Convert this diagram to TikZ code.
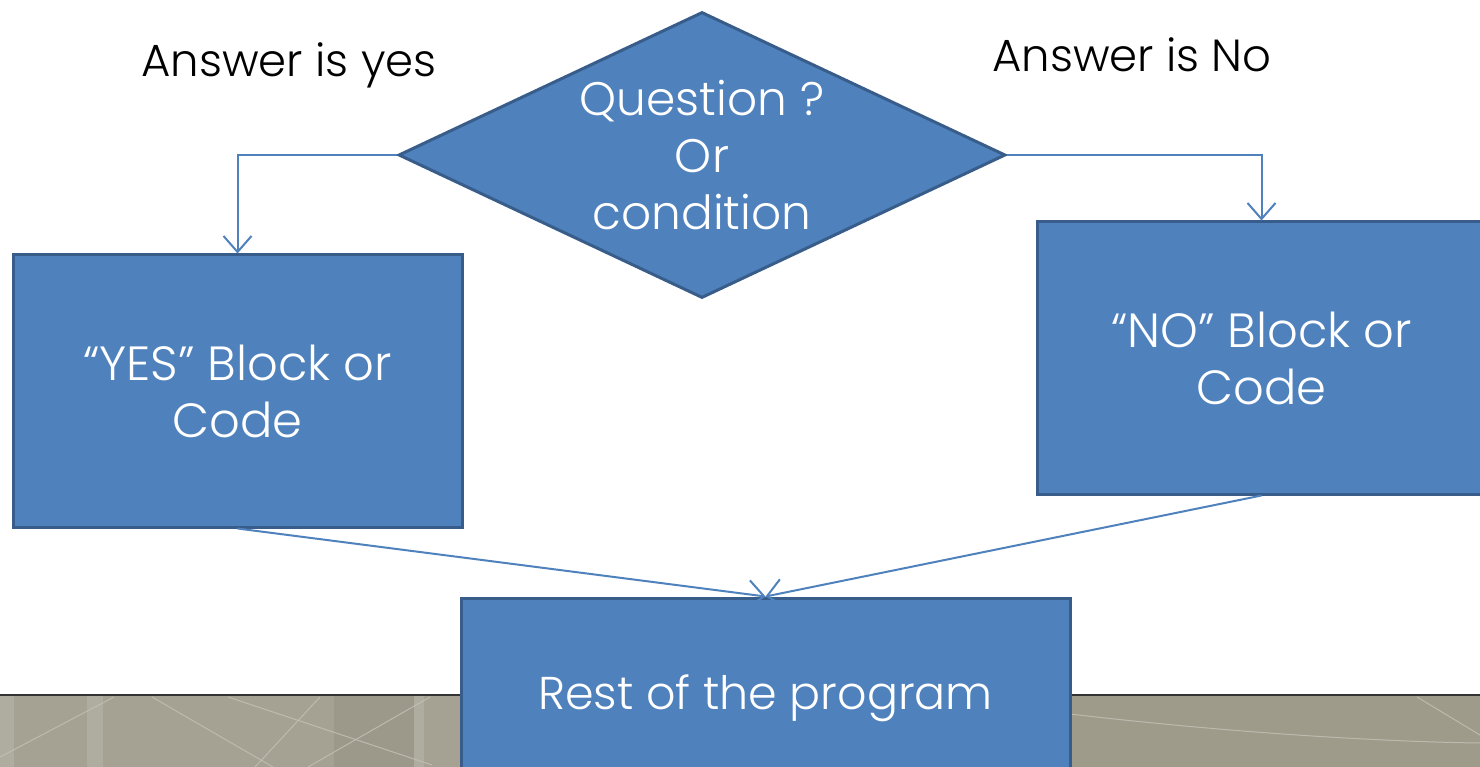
\documentclass[tikz,border=0pt]{standalone}
\usepackage{fontspec}
\setmainfont{Poppins}[UprightFont=* Light]
\usepackage{tikz}
\usetikzlibrary{shapes.geometric,arrows.meta,positioning}
\definecolor{myblue}{RGB}{79,129,189}
\definecolor{myborder}{RGB}{56,93,138}
\definecolor{myband}{RGB}{165,162,147}
\definecolor{mybandr}{RGB}{158,155,139}
\definecolor{mystreak}{RGB}{196,194,182}

\begin{document}
\begin{tikzpicture}[x=1pt,y=-1pt,
  block/.style={draw=myborder,line width=3pt,fill=myblue,text=white,
    align=center,font=\fontsize{48}{57}\selectfont,inner sep=0pt},
  decision/.style={block,diamond,aspect=2.12,inner sep=-12pt,
    font=\fontsize{47}{57}\selectfont,
    minimum width=607pt,minimum height=286pt},
  answer/.style={font=\fontsize{45}{50}\selectfont,inner sep=0pt},
  flow/.style={draw=myblue,line width=2pt,
    -{Straight Barb[length=16pt,width=28pt,line width=2pt]}}
]
\useasboundingbox (0,0) rectangle (1480,767);
\clip (0,0) rectangle (1480,767);

% the band at the bottom
\fill[myband] (0,695) rectangle (1480,767);
\fill[mybandr] (1070,695) rectangle (1480,767);
\fill[white,opacity=0.12] (0,695) rectangle (14,767);
\fill[white,opacity=0.12] (87,695) rectangle (103,767);
\fill[black,opacity=0.05] (334,695) rectangle (414,767);
\fill[white,opacity=0.12] (414,695) rectangle (424,767);
\begin{scope}[draw=mystreak,line width=1pt,opacity=0.8]
\draw (114,697) -- (0,757);
\draw (152,697) -- (273,767);
\draw (228,697) -- (432,765);
\draw (320,697) -- (255,767);
\draw (430,697) -- (308,767);
\draw (1070,714) .. controls (1250,735) and (1400,742) .. (1480,743);
\draw (1417,697) -- (1480,735);
\end{scope}
\draw[black!80,line width=1.5pt] (0,695) -- (1480,695);

% the question
\node[decision] (question) at (702,155) {Question ?\\Or\\condition};

% the answers
\node[answer] (yes) at (289,65) {Answer is yes};
\node[answer] (no) at (1132,55) {Answer is No};

% the blocks
\node[block,minimum width=449pt,minimum height=272pt] (yesblock) at (237.5,391)
  {“YES” Block or\\Code};
\node[block,minimum width=449pt,minimum height=272pt] (noblock) at (1261.5,358)
  {“NO” Block or\\Code};
\node[block,font=\fontsize{46}{57}\selectfont,minimum width=609pt,
  minimum height=200pt] (rest) at (765.5,698) {Rest of the program};

% the edges
\draw[flow] (question.west) -| (yesblock.north);
\draw[flow] (question.east) -| (noblock.north);
\draw[flow] (yesblock.south) -- (rest.north);
\draw[flow] (noblock.south) -- (rest.north);
\end{tikzpicture}
\end{document}
